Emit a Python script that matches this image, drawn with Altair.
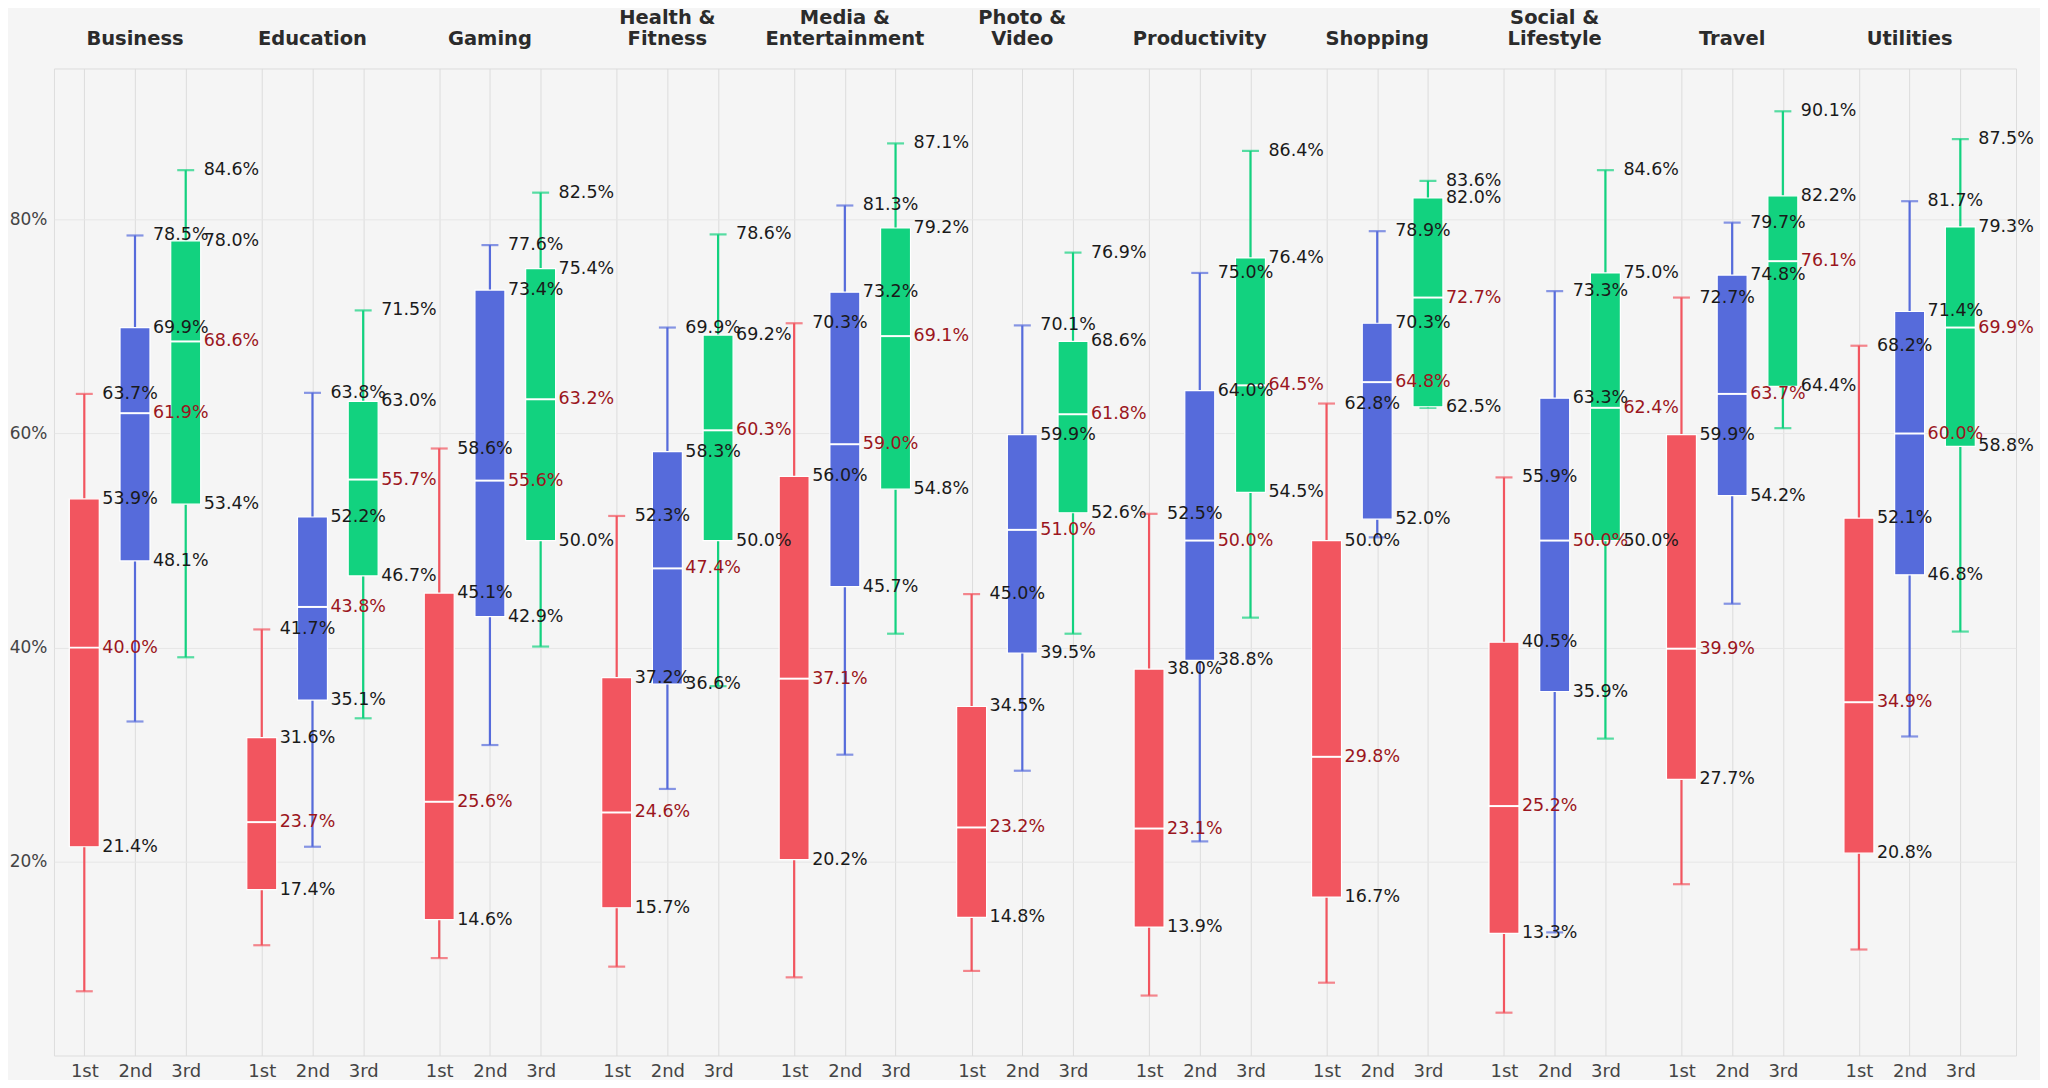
import altair as alt
import pandas as pd

categories = ["Business", "Education", "Gaming", "Health & Fitness", "Media & Entertainment",
              "Photo & Video", "Productivity", "Shopping", "Social & Lifestyle", "Travel", "Utilities"]
header_labels = ["Business", "Education", "Gaming", "Health &\nFitness", "Media &\nEntertainment",
                 "Photo &\nVideo", "Productivity", "Shopping", "Social &\nLifestyle", "Travel", "Utilities"]
rounds = ["1st", "2nd", "3rd"]
round_colors = ["#F2555F", "#566BDB", "#12D27F"]

# 1st
max_1st = [63.7, 41.7, 58.6, 52.3, 70.3, 45.0, 52.5, 62.8, 55.9, 72.7, 68.2]
q3_1st = [53.9, 31.6, 45.1, 37.2, 56.0, 34.5, 38.0, 50.0, 40.5, 59.9, 52.1]
med_1st = [40.0, 23.7, 25.6, 24.6, 37.1, 23.2, 23.1, 29.8, 25.2, 39.9, 34.9]
q1_1st = [21.4, 17.4, 14.6, 15.7, 20.2, 14.8, 13.9, 16.7, 13.3, 27.7, 20.8]
min_1st = [7.9, 12.2, 11.0, 10.2, 9.2, 9.8, 7.5, 8.7, 5.9, 17.9, 11.8]
# 2nd
max_2nd = [78.5, 63.8, 77.6, 69.9, 81.3, 70.1, 75.0, 78.9, 73.3, 79.7, 81.7]
q3_2nd = [69.9, 52.2, 73.4, 58.3, 73.2, 59.9, 64.0, 70.3, 63.3, 74.8, 71.4]
med_2nd = [61.9, 43.8, 55.6, 47.4, 59.0, 51.0, 50.0, 64.8, 50.0, 63.7, 60.0]
q1_2nd = [48.1, 35.1, 42.9, 36.6, 45.7, 39.5, 38.8, 52.0, 35.9, 54.2, 46.8]
min_2nd = [33.1, 21.4, 30.9, 26.8, 30.0, 28.5, 21.9, 50.3, 13.4, 44.1, 31.7]
# 3rd
max_3rd = [84.6, 71.5, 82.5, 78.6, 87.1, 76.9, 86.4, 83.6, 84.6, 90.1, 87.5]
q3_3rd = [78.0, 63.0, 75.4, 69.2, 79.2, 68.6, 76.4, 82.0, 75.0, 82.2, 79.3]
med_3rd = [68.6, 55.7, 63.2, 60.3, 69.1, 61.8, 64.5, 72.7, 62.4, 76.1, 69.9]
q1_3rd = [53.4, 46.7, 50.0, 50.0, 54.8, 52.6, 54.5, 62.5, 50.0, 64.4, 58.8]
min_3rd = [39.1, 33.4, 40.1, 36.4, 41.3, 41.3, 42.8, 62.4, 31.5, 60.5, 41.5]

stats = {
    "1st": (min_1st, q1_1st, med_1st, q3_1st, max_1st),
    "2nd": (min_2nd, q1_2nd, med_2nd, q3_2nd, max_2nd),
    "3rd": (min_3rd, q1_3rd, med_3rd, q3_3rd, max_3rd),
}

rows = []
for ci, cat in enumerate(categories):
    for ri, rd in enumerate(rounds):
        lo, q1, med, q3, hi = (s[ci] for s in stats[rd])
        rows.append(dict(category=cat, round=rd, ci=ci, ri=ri, lo=lo, q1=q1, med=med, q3=q3, hi=hi))
df = pd.DataFrame(rows)

hdr_rows = []
for ci, lab in enumerate(header_labels):
    parts = lab.split("\n")
    top = parts[0] if len(parts) > 1 else ""
    bottom = parts[-1]
    hdr_rows.append(dict(ci=ci, top=top, bottom=bottom))
hdr = pd.DataFrame(hdr_rows)

all_lo = min(min_1st + min_2nd + min_3rd)
all_hi = max(max_1st + max_2nd + max_3rd)

GROUP = 3.5  # slots per category group
tick_positions = [0.5 + GROUP * ci + ri for ci in range(len(categories)) for ri in range(3)]

x_scale = alt.Scale(domain=[0, GROUP * len(categories)], nice=False, zero=False)
x_axis = alt.Axis(values=tick_positions,
                  labelExpr="['1st','2nd','3rd'][round((datum.value - 0.5) % 3.5)]",
                  grid=True, gridColor="#dcdcdc", gridWidth=1, ticks=False, domain=False,
                  title=None, labelPadding=7, labelFontSize=18, labelColor="#444444",
                  labelFlush=False, labelOverlap=False, labelFont="DejaVu Sans")
y_scale = alt.Scale(domain=[all_lo - 4, all_hi + 4], nice=False, zero=False)
y_axis = alt.Axis(values=[20, 40, 60, 80], labelExpr="datum.value + '%'", ticks=False,
                  domain=False, grid=True, gridColor="#e6e6e6", gridWidth=1, title=None,
                  labelPadding=7, labelFontSize=17, labelColor="#444444", labelFont="DejaVu Sans")

X = alt.X("pos:Q", scale=x_scale, axis=x_axis)
color = alt.Color("round:N", scale=alt.Scale(domain=rounds, range=round_colors), legend=None)

base = alt.Chart(df).transform_calculate(pos="0.5 + 3.5*datum.ci + datum.ri")

whisker = base.mark_rule(strokeWidth=2.2).encode(
    x=X, y=alt.Y("lo:Q", scale=y_scale, axis=y_axis), y2="hi:Q", color=color)
cap_lo = base.mark_tick(orient="horizontal", size=17, thickness=2.2).encode(
    x=X, y=alt.Y("lo:Q", scale=y_scale, axis=y_axis), color=color)
cap_hi = base.mark_tick(orient="horizontal", size=17, thickness=2.2).encode(
    x=X, y=alt.Y("hi:Q", scale=y_scale, axis=y_axis), color=color)
box = base.mark_bar(width=30, stroke="white", strokeWidth=1.2, opacity=1).encode(
    x=X, y=alt.Y("q1:Q", scale=y_scale, axis=y_axis), y2="q3:Q", color=color)
median = base.mark_tick(orient="horizontal", size=30, thickness=2, color="white", opacity=1).encode(
    x=X, y=alt.Y("med:Q", scale=y_scale, axis=y_axis))

labels = base.transform_fold(["hi", "q3", "med", "q1"], as_=["stat", "val"]).transform_calculate(
    txt="format(datum.val, '.1f') + '%'"
).mark_text(align="left", baseline="middle", dx=18, fontSize=17.5, font="DejaVu Sans").encode(
    x=X, y=alt.Y("val:Q", scale=y_scale, axis=y_axis), text="txt:N",
    color=alt.condition("datum.stat == 'med'", alt.value("#9B1520"), alt.value("#1a1a1a")))

hdr_base = alt.Chart(hdr).transform_calculate(pos="1.5 + 3.5*datum.ci")
hdr_style = dict(fontSize=19.5, fontWeight="bold", color="#2b2b2b", baseline="alphabetic",
                 align="center", font="DejaVu Sans")
header_bottom = hdr_base.mark_text(**hdr_style).encode(x=X, y=alt.value(-23), text="bottom:N")
header_top = hdr_base.mark_text(**hdr_style).encode(x=X, y=alt.value(-44.5), text="top:N")

chart = alt.layer(whisker, cap_lo, cap_hi, box, median, labels, header_top, header_bottom).properties(
    width=1964, height=988,
    autosize=alt.AutoSizeParams(type="none"),
    padding={"left": 46, "top": 60, "right": 24, "bottom": 24},
    background="#f5f5f5",
).configure_view(stroke="#d4d4d4", strokeWidth=1.5).configure(font="DejaVu Sans")

chart.save("out.html", embed_options={"renderer": "svg", "actions": False})
